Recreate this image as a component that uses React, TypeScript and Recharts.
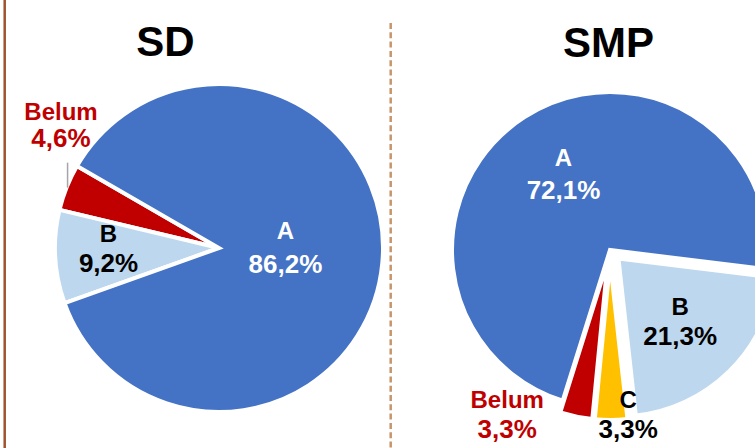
import React from 'react';
import { PieChart, Pie, Cell } from 'recharts';

// ---- data ----
const TITLES = ['SD', 'SMP'];
const SD_CATEGORIES = ['Belum', 'B', 'A'];
const SD_VALUES = [4.6, 9.2, 86.2];
const SMP_CATEGORIES = ['B', 'C', 'Belum', 'A'];
const SMP_VALUES = [21.3, 3.3, 3.3, 72.1];
const SMP_EXPLODED = ['B', 'C', 'Belum'];

// ---- style ----
const COLORS: Record<string, string> = { A: '#4472C4', B: '#BDD7EE', C: '#FFC000', Belum: '#C00000' };
const LABEL_COLORS: Record<string, string> = { A: '#FFFFFF', B: '#000000', C: '#000000', Belum: '#C00000' };
const FONT = '"Liberation Sans", Arial, Helvetica, sans-serif';
const RAD = Math.PI / 180;
const STROKE_W = 4;

const SD_GEOM = { cx: 219, cy: 248, r: 164, start: 150, end: 510 };
const SMP_GEOM = { cx: 610, cy: 250, r: 158, start: -7, end: -367, explode: 12 };

type Place = { r: number; da: number; gap: number; leader?: boolean };
const SD_PLACE: Record<string, Place> = {
  A: { r: 0.41, da: 5.8, gap: 33 },
  B: { r: 0.682, da: -3.1, gap: 30 },
  Belum: { r: 1.238, da: -16.3, gap: 26, leader: true },
};
const SMP_PLACE: Record<string, Place> = {
  A: { r: 0.574, da: -1.5, gap: 33 },
  B: { r: 0.563, da: 0, gap: 30 },
  C: { r: 0.981, da: 6.4, gap: 30 },
  Belum: { r: 1.169, da: -21.9, gap: 30 },
};

const sdData = SD_CATEGORIES.map((name, i) => ({ name, value: SD_VALUES[i] }));
const smpData = SMP_CATEGORIES.map((name, i) => ({ name, value: SMP_VALUES[i] }));

function midAngleOf(values: number[], idx: number, start: number, end: number) {
  const total = values.reduce((a, b) => a + b, 0);
  let cum = 0;
  for (let i = 0; i < idx; i++) cum += values[i];
  return start + ((end - start) * (cum + values[idx] / 2)) / total;
}

function makeLabel(place: Record<string, Place>, only?: string) {
  return (props: any) => {
    const { cx, cy, midAngle, outerRadius, name, value, index } = props;
    if (only && name !== only) return null;
    const p = place[name];
    if (!p) return null;
    const R = outerRadius - STROKE_W / 2;
    const ang = (midAngle + p.da) * RAD;
    const x = cx + Math.cos(ang) * R * p.r;
    const y = cy - Math.sin(ang) * R * p.r;
    const pct = Number(value).toFixed(1).replace('.', ',') + '%';
    const fill = LABEL_COLORS[name];
    let leader: React.ReactNode = null;
    if (p.leader) {
      const m = midAngle * RAD;
      const lx = cx + Math.cos(m) * (R + 1);
      const ly = cy - Math.sin(m) * (R + 1);
      leader = <line x1={lx} y1={ly} x2={lx} y2={ly - 25} stroke="#A6A6A6" strokeWidth={1.5} />;
    }
    const fs1 = 24;
    const fs2 = 26;
    return (
      <g key={`lbl-${name}-${index}`}>
        {leader}
        <text x={x} y={y - p.gap / 2 + fs1 * 0.36} textAnchor="middle" fontFamily={FONT} fontWeight="bold" fontSize={fs1} fill={fill}>
          {name}
        </text>
        <text x={x} y={y + p.gap / 2 + fs2 * 0.36} textAnchor="middle" fontFamily={FONT} fontWeight="bold" fontSize={fs2} fill={fill}>
          {pct}
        </text>
      </g>
    );
  };
}

export default function App() {
  const smpPies = ['A', ...SMP_EXPLODED].map((target) => {
    const idx = SMP_CATEGORIES.indexOf(target);
    let cx = SMP_GEOM.cx;
    let cy = SMP_GEOM.cy;
    if (SMP_EXPLODED.includes(target)) {
      const m = midAngleOf(SMP_VALUES, idx, SMP_GEOM.start, SMP_GEOM.end) * RAD;
      cx += Math.cos(m) * SMP_GEOM.explode;
      cy -= Math.sin(m) * SMP_GEOM.explode;
    }
    return (
      <Pie
        key={`smp-${target}`}
        data={smpData}
        dataKey="value"
        nameKey="name"
        cx={cx}
        cy={cy}
        innerRadius={0}
        outerRadius={SMP_GEOM.r}
        startAngle={SMP_GEOM.start}
        endAngle={SMP_GEOM.end}
        isAnimationActive={false}
        labelLine={false}
        label={makeLabel(SMP_PLACE, target)}
      >
        {smpData.map((d) => (
          <Cell
            key={d.name}
            fill={d.name === target ? COLORS[d.name] : 'none'}
            stroke={d.name === target ? '#FFFFFF' : 'none'}
            strokeWidth={STROKE_W}
          />
        ))}
      </Pie>
    );
  });

  return (
    <div style={{ position: 'absolute', left: 0, top: 0, width: 755, height: 448, background: '#FFFFFF', overflow: 'hidden' }}>
      <svg width={755} height={448} style={{ position: 'absolute', left: 0, top: 0 }}>
        <line x1={4.7} y1={0} x2={4.7} y2={448} stroke="#A0522D" strokeWidth={2.5} />
        <line x1={390.7} y1={23} x2={390.7} y2={448} stroke="#C8956A" strokeWidth={2.5} strokeDasharray="6 3.3" />
        <text x={165.5} y={55.5} textAnchor="middle" fontFamily={FONT} fontWeight="bold" fontSize={42} fill="#000">
          {TITLES[0]}
        </text>
        <text x={608.5} y={56.5} textAnchor="middle" fontFamily={FONT} fontWeight="bold" fontSize={42} fill="#000">
          {TITLES[1]}
        </text>
      </svg>
      <div style={{ position: 'absolute', left: 0, top: 0 }}>
        <PieChart width={755} height={448} margin={{ top: 0, right: 0, bottom: 0, left: 0 }}>
          <Pie
            data={sdData}
            dataKey="value"
            nameKey="name"
            cx={SD_GEOM.cx}
            cy={SD_GEOM.cy}
            innerRadius={0}
            outerRadius={SD_GEOM.r}
            startAngle={SD_GEOM.start}
            endAngle={SD_GEOM.end}
            isAnimationActive={false}
            labelLine={false}
            label={makeLabel(SD_PLACE)}
            stroke="#FFFFFF"
            strokeWidth={STROKE_W}
          >
            {sdData.map((d) => (
              <Cell key={d.name} fill={COLORS[d.name]} stroke="#FFFFFF" strokeWidth={STROKE_W} />
            ))}
          </Pie>
          {smpPies}
        </PieChart>
      </div>
    </div>
  );
}
